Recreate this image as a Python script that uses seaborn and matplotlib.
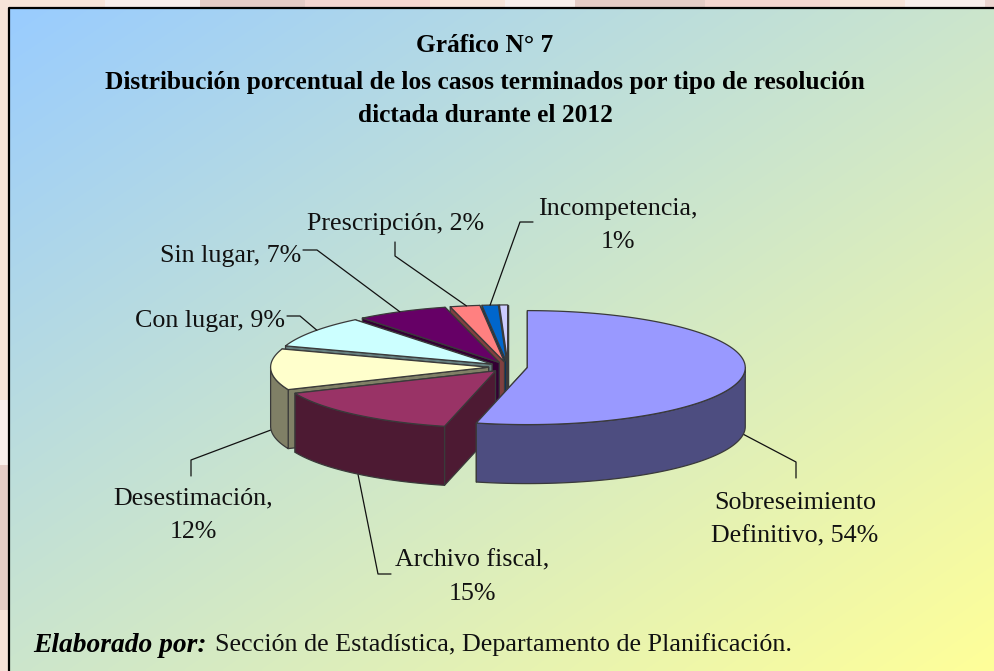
"""Gráfico N° 7: pseudo-3D exploded pie of closed cases by resolution type."""
import matplotlib
matplotlib.use("Agg")
import matplotlib.pyplot as plt
import numpy as np
import seaborn as sns

# shares (labels are rounded, last slice has no label)
categories = ["Sobreseimiento Definitivo", "Archivo fiscal", "Desestimación", "Con lugar",
              "Sin lugar", "Prescripción", "Incompetencia", "Otros"]
shares = [53.7, 14.8, 11.6, 9.0, 6.8, 2.2, 1.2, 0.6]
top_colors = ["#9999FF", "#993366", "#FFFFCC", "#CCFFFF", "#660066", "#FF8080", "#0066CC", "#CCCCFF"]

title_lines = ["Gráfico N° 7",
               "Distribución porcentual de los casos terminados por tipo de resolución",
               "dictada durante el 2012"]

sns.set_theme(style="white")
plt.rcParams["font.family"] = ["Liberation Serif", "DejaVu Serif"]

W, H = 995, 671
CX, CY = 508, 367      # pie centre in pixels
RX, RY = 218, 57       # ellipse radii
EXPLODE = 19.4         # shift along slice bisector, in RX units of pixels
DEPTH = 59
EDGE = "#3a3a3a"

fig = plt.figure(figsize=(W / 100, H / 100), dpi=100)
ax = fig.add_axes([0, 0, 1, 1])
ax.set_xlim(0, W)
ax.set_ylim(H, 0)
ax.axis("off")

# page behind the panel: soft bands along top and left
ax.add_patch(plt.Rectangle((0, 0), W, H, color="#F7E4D9", zorder=0))
for x0, x1, c in [(105, 200, "#F8EEEB"), (200, 305, "#E5CCC6"), (305, 430, "#F4D6D0"), (505, 575, "#F8EEEB"),
                  (575, 705, "#E5CCC6"), (705, 830, "#F4D6D0"), (905, 985, "#F8EEEB"), (985, 995, "#EBD5D0")]:
    ax.add_patch(plt.Rectangle((x0, 0), x1 - x0, 8, color=c, lw=0, zorder=0.1))
for y0, y1, c in [(400, 465, "#F8EEEB"), (465, 610, "#E5CCC6"), (610, 671, "#F6E2D8")]:
    ax.add_patch(plt.Rectangle((0, y0), 9, y1 - y0, color=c, lw=0, zorder=0.1))

# panel gradient, light blue to light yellow across the diagonal
PX0, PY0 = 9, 8
gy, gx = np.mgrid[0:1:200j, 0:1:200j]
t = ((gx + gy) / 2)[..., None]
start, end = np.array([0x99, 0xCC, 0xFF]) / 255, np.array([0xFF, 0xFF, 0x99]) / 255
ax.imshow(start + (end - start) * t, extent=(PX0, W, H, PY0), aspect="auto", zorder=0.5, interpolation="bilinear")
ax.set_xlim(0, W)
ax.set_ylim(H, 0)
ax.plot([PX0, PX0, W], [H, PY0, PY0], color="black", lw=1.6, zorder=0.6, solid_capstyle="butt")

palette = sns.color_palette(top_colors)
bounds = np.cumsum([0] + shares) / sum(shares) * 2 * np.pi  # clockwise from 12 o'clock


def rim(theta, ox, oy):
    return ox + RX * np.sin(theta), oy - RY * np.cos(theta)


def slice_origin(i):
    mid = (bounds[i] + bounds[i + 1]) / 2
    return CX + EXPLODE * np.sin(mid), CY - EXPLODE * RY / RX * np.cos(mid)


order = [7, 6, 5, 4, 3, 2, 1, 0]  # back to front
z = 2
for i in order:
    a0, a1 = bounds[i], bounds[i + 1]
    ox, oy = slice_origin(i)
    top = np.array(palette[i])
    side = top * 0.5
    poly = dict(facecolor=side, edgecolor=EDGE, lw=0.9, joinstyle="round")
    # the two cut faces
    for a in (a1, a0):
        x, y = rim(a, ox, oy)
        ax.fill([ox, x, x, ox], [oy, y, y + DEPTH, oy + DEPTH], zorder=z, **poly)
        z += 1
    # outer wall, only where it faces the viewer
    lo, hi = max(a0, np.pi / 2), min(a1, 3 * np.pi / 2)
    if hi > lo:
        th = np.linspace(lo, hi, 80)
        x, y = rim(th, ox, oy)
        ax.fill(np.r_[x, x[::-1]], np.r_[y, y[::-1] + DEPTH], zorder=z, **poly)
        z += 1
    th = np.linspace(a0, a1, 120)
    x, y = rim(th, ox, oy)
    ax.fill(np.r_[ox, x], np.r_[oy, y], facecolor=top, edgecolor=EDGE, lw=0.9, zorder=z, joinstyle="round")
    z += 1

# leader lines: elbow points, then the slice rim (slice index, fraction along its arc, drop below rim)
leaders = [
    ([(796, 478), (796, 462)], 0, 0.505, 59),
    ([(391, 574), (378, 574)], 1, 0.48, 59),
    ([(191, 476), (191, 460)], 2, 0.40, 56),
    ([(287, 316), (300, 316)], 3, 0.55, 0),
    ([(303, 250), (317, 250)], 4, 0.48, 0),
    ([(395, 242), (395, 256)], 5, 0.55, 0),
    ([(533, 222), (520, 222)], 6, 0.50, 0),
]
for pts, i, frac, drop in leaders:
    a = bounds[i] + frac * (bounds[i + 1] - bounds[i])
    ox, oy = slice_origin(i)
    x, y = rim(a, ox, oy)
    xs, ys = zip(*pts, (x, y + drop))
    ax.plot(xs, ys, color="#111111", lw=0.9, zorder=1.5 if drop else 60)

for text, y in zip(title_lines, (46, 83, 115)):
    ax.text(485, y, text, ha="center", va="center", fontsize=18.3, fontweight="bold", color="black", zorder=70)

labels = [
    ("Sobreseimiento", 795, 503), ("Definitivo, 54%", 795, 536),
    ("Archivo fiscal,", 472, 560), ("15%", 472, 594),
    ("Desestimación,", 193, 498), ("12%", 193, 532),
    ("Con lugar, 9%", 210, 321),
    ("Sin lugar, 7%", 231, 256),
    ("Prescripción, 2%", 396, 224),
    ("Incompetencia,", 618, 209), ("1%", 618, 242),
]
for text, x, y in labels:
    ax.text(x, y, text, ha="center", va="center", fontsize=18.7, color="#111111", zorder=70)

ax.text(33, 645, "Elaborado por:", ha="left", va="center", fontsize=19.8, fontweight="bold",
        fontstyle="italic", color="black", zorder=70)
ax.text(215, 645, "Sección de Estadística, Departamento de Planificación.", ha="left", va="center",
        fontsize=18.8, color="#111111", zorder=70)

fig.savefig("out.png", dpi=100)
